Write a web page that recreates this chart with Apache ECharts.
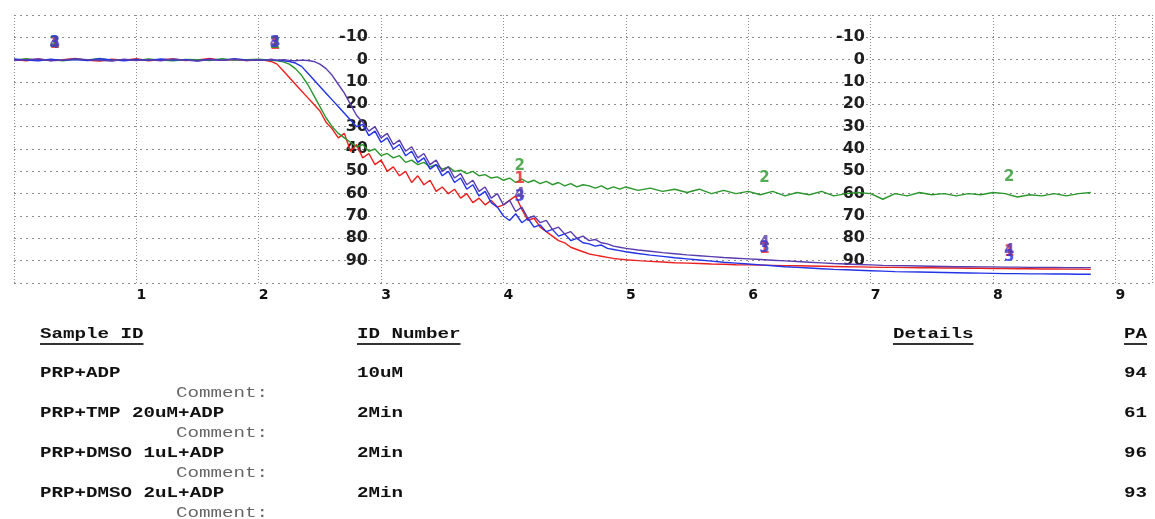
<!DOCTYPE html>
<html>
<head>
<meta charset="utf-8">
<title>Platelet aggregation</title>
<script src="https://cdn.jsdelivr.net/npm/echarts@6/dist/echarts.min.js"></script>
<style>
  html, body { margin: 0; padding: 0; background: #ffffff; }
  #chart { width: 1155px; height: 519px; }
</style>
</head>
<body>
<div id="chart"></div>
<script>
// Time axis (minutes)
const times = [
  0, 0.1, 0.2, 0.3, 0.4, 0.5, 0.6, 0.7, 0.8, 0.9, 1.0, 1.1, 1.2, 1.3, 1.4, 1.5, 1.6, 1.7, 1.8, 1.9, 2.0,
  2.05, 2.1, 2.15, 2.2, 2.25, 2.3, 2.35, 2.4, 2.45, 2.5, 2.55, 2.6, 2.65, 2.7, 2.75, 2.8, 2.85, 2.9, 2.95, 3.0,
  3.05, 3.1, 3.15, 3.2, 3.25, 3.3, 3.35, 3.4, 3.45, 3.5, 3.55, 3.6, 3.65, 3.7, 3.75, 3.8, 3.85, 3.9, 3.95, 4.0,
  4.05, 4.1, 4.15, 4.2, 4.25, 4.3, 4.35, 4.4, 4.45, 4.5, 4.55, 4.6, 4.65, 4.7, 4.75, 4.8, 4.85, 4.9, 4.95, 5.0,
  5.1, 5.2, 5.3, 5.4, 5.5, 5.6, 5.7, 5.8, 5.9, 6.0, 6.1, 6.2, 6.3, 6.4, 6.5, 6.6, 6.7, 6.8, 6.9, 7.0,
  7.1, 7.2, 7.3, 7.4, 7.5, 7.6, 7.7, 7.8, 7.9, 8.0, 8.1, 8.2, 8.3, 8.4, 8.5, 8.6, 8.7, 8.8
];

// Aggregation traces (% light transmission), one per channel
const trace1 = [ // PRP+ADP
  0, 0.5, -0.3, 0.4, 0, -0.5, 0.3, 0.6, -0.2, 0.2, -0.4, 0.5, 0, -0.3, 0.4, 0.1, -0.5, 0.3, 0, 0.4, 0.2,
  0.3, 0.8, 2, 5, 8, 11, 14, 17, 20, 23, 28, 31, 35, 33, 41, 38, 44, 42, 47, 45,
  50, 48, 52, 50, 55, 52, 56, 54, 59, 57, 60, 58, 62, 60, 64, 62, 65, 63, 66, 65,
  63, 61, 67, 72, 71, 75, 77, 79, 81, 82, 84, 85, 86, 87, 87.5, 88, 88.5, 89, 89.3, 89.6,
  90, 90.3, 90.6, 90.9, 91.1, 91.3, 91.5, 91.6, 91.8, 91.9, 92, 92.1, 92.2, 92.3, 92.4, 92.5, 92.6, 92.7, 92.8, 92.9,
  93, 93, 93.1, 93.2, 93.2, 93.3, 93.3, 93.4, 93.4, 93.5, 93.5, 93.6, 93.6, 93.7, 93.7, 93.8, 93.8, 93.9
];
const trace2 = [ // PRP+TMP 20uM+ADP
  0.2, -0.4, 0.3, 0, 0.5, -0.2, 0.1, -0.5, 0.4, 0, 0.3, -0.3, 0.2, 0.5, -0.1, 0, 0.4, -0.4, 0.2, 0, -0.2,
  0, 0.3, 0.5, 1, 2, 4, 7, 11, 16, 21, 26, 30, 33, 35, 37, 39, 38, 41, 40, 43,
  42, 44, 43, 46, 45, 47, 46, 48, 47, 49, 48, 50, 49.5, 51, 50, 52, 51.5, 53, 52.5, 54,
  53, 55, 53.5, 55, 54, 55.5, 54.5, 56, 55, 56.5, 55.5, 57, 56, 56.5, 57.5, 56.5, 58, 57, 58, 57,
  58.5, 57.5, 59, 58, 59.5, 58, 60, 58.5, 60, 59, 60.5, 59, 61, 59.5, 60.5, 59, 61, 60, 59.5, 60,
  62.5, 60, 61, 59.5, 60.5, 60, 61, 60, 60.5, 59.5, 60, 61.5, 60.5, 61, 60, 61, 60, 59.5
];
const trace3 = [ // PRP+DMSO 1uL+ADP
  -0.3, 0.2, 0.5, -0.2, 0.3, 0, 0.4, -0.4, 0.1, 0.5, -0.1, 0.3, -0.3, 0.2, 0, 0.5, -0.2, 0.3, -0.4, 0.1, 0.2,
  0.2, 0, 0.3, 0.5, 0.8, 1.5, 3, 6, 9, 12, 15, 18, 21, 24, 27, 30, 29, 34, 32, 37,
  35, 40, 38, 43, 41, 46, 44, 49, 47, 52, 50, 55, 53, 58, 56, 61, 59, 64, 66, 70,
  72, 69, 73, 71, 75, 74, 77, 76, 79, 78, 81, 80, 82, 82.5, 83.5, 83, 84.5, 85, 85.5, 86,
  86.8, 87.5, 88.1, 88.7, 89.2, 89.7, 90.2, 90.7, 91.1, 91.5, 91.9, 92.3, 92.7, 93, 93.3, 93.6, 93.9, 94.1, 94.3, 94.5,
  94.7, 94.9, 95, 95.1, 95.2, 95.3, 95.4, 95.5, 95.6, 95.7, 95.8, 95.8, 95.9, 95.9, 96, 96, 96.1, 96.1
];
const trace4 = [ // PRP+DMSO 2uL+ADP
  0.4, 0, -0.3, 0.5, 0.2, -0.4, 0, 0.3, 0.6, -0.2, 0.4, 0, 0.5, -0.3, 0.2, 0.6, 0, 0.3, -0.2, 0.4, 0,
  0.3, -0.2, 0.2, 0, 0.3, 0.5, 0.2, 0.4, 0.8, 2, 4, 7, 11, 15, 20, 25, 28, 32, 30, 35,
  33, 38, 36, 41, 39, 44, 42, 47, 45, 50, 48, 53, 51, 56, 54, 59, 57, 62, 60, 65,
  63, 68, 66, 71, 70, 73, 72, 76, 75, 78, 77, 80, 79, 81, 80.5, 82, 82.5, 83.5, 84, 84.5,
  85.2, 85.8, 86.4, 86.9, 87.4, 87.8, 88.2, 88.6, 88.9, 89.2, 89.5, 89.8, 90.1, 90.4, 90.7, 91, 91.3, 91.5, 91.7, 91.9,
  92.1, 92.2, 92.3, 92.4, 92.5, 92.6, 92.7, 92.7, 92.8, 92.8, 92.9, 92.9, 93, 93, 93, 93.1, 93.1, 93.1
];

// Times where the channel numbers are printed on the traces
const markerTimes = [0.3, 2.1, 4.1, 6.1, 8.1];

// Y tick labels printed inside the plot
const yTickLabels = [-10, 0, 10, 20, 30, 40, 50, 60, 70, 80, 90];

// Result table
const tableHeaders = ['Sample ID', 'ID Number', 'Details', 'PA'];
const sampleIds = ['PRP+ADP', 'PRP+TMP 20uM+ADP', 'PRP+DMSO 1uL+ADP', 'PRP+DMSO 2uL+ADP'];
const idNumbers = ['10uM', '2Min', '2Min', '2Min'];
const paValues = [94, 61, 96, 93];

const traces = [trace1, trace2, trace3, trace4];
const colors = ['#ec1f1f', '#2a962c', '#2233e8', '#5a3cae'];

const chart = echarts.init(document.getElementById('chart'), null, { renderer: 'canvas' });

const lineSeries = traces.map((tr, k) => ({
  name: sampleIds[k],
  type: 'line',
  data: times.map((t, i) => [t, tr[i]]),
  symbol: 'none',
  showSymbol: false,
  lineStyle: { color: colors[k], width: 1.4 },
  silent: true,
  z: 3 + k
}));

const markerSeries = traces.map((tr, k) => ({
  type: 'scatter',
  data: markerTimes.map(t => {
    const i = times.indexOf(t);
    return [t, tr[i]];
  }),
  symbol: 'circle',
  symbolSize: 2,
  itemStyle: { color: 'rgba(0,0,0,0)' },
  label: {
    show: true,
    position: 'top',
    distance: 8,
    offset: [4, 0],
    formatter: String(k + 1),
    color: colors[k],
    fontFamily: 'DejaVu Sans',
    fontWeight: 'bold',
    fontSize: 15
  },
  silent: true,
  z: 10 + k
}));

function innerYAxis(offset) {
  return {
    type: 'value',
    inverse: true,
    min: -20,
    max: 100,
    interval: 10,
    position: 'left',
    offset: offset,
    axisLine: { show: false },
    axisTick: { show: false },
    splitLine: { show: false },
    axisLabel: {
      margin: 8,
      color: '#1e1e1e',
      fontFamily: 'DejaVu Sans',
      fontWeight: 'bold',
      fontSize: 16,
      formatter: v => (yTickLabels.indexOf(v) >= 0 ? String(v) : '')
    }
  };
}

// Table drawn under the plot
const charW = 11.5;
const fontScale = 1.37;
const boldFont = 'bold 14px "Liberation Mono", "DejaVu Sans Mono", monospace';
const commentFont = '14px "Liberation Mono", "DejaVu Sans Mono", monospace';
const headerX = [40, 357, 893, 1147];
const headerY = 334;
const rowY0 = 373;
const rowStep = 40;

const graphics = [];
function textEl(str, x, y, font, fill, align) {
  graphics.push({
    type: 'text',
    x: x,
    y: y,
    scaleX: fontScale,
    silent: true,
    style: {
      text: str,
      x: 0,
      y: 0,
      font: font,
      fill: fill,
      textAlign: align || 'left',
      align: align || 'left',
      textVerticalAlign: 'middle',
      verticalAlign: 'middle'
    }
  });
}
tableHeaders.forEach((h, j) => {
  const right = j === 3;
  textEl(h, headerX[j], headerY, boldFont, '#111', right ? 'right' : 'left');
  const w = h.length * charW;
  const x1 = right ? headerX[j] - w : headerX[j];
  graphics.push({
    type: 'line',
    silent: true,
    shape: { x1: x1, y1: headerY + 10, x2: x1 + w, y2: headerY + 10 },
    style: { stroke: '#333', lineWidth: 2 }
  });
});
sampleIds.forEach((s, r) => {
  const y = rowY0 + r * rowStep;
  textEl(s, headerX[0], y, boldFont, '#111');
  textEl(idNumbers[r], headerX[1], y, boldFont, '#111');
  textEl(String(paValues[r]), headerX[3], y, boldFont, '#111', 'right');
  textEl('Comment:', 176, y + 20, commentFont, '#666');
});

const option = {
  animation: false,
  backgroundColor: '#ffffff',
  grid: { left: 14, top: 15, right: 0, bottom: 236 },
  xAxis: {
    type: 'value',
    min: 0,
    max: 9.3,
    interval: 1,
    axisLine: { show: false },
    axisTick: { show: false },
    axisLabel: {
      margin: 5,
      padding: [0, 0, 0, 10],
      color: '#111',
      fontFamily: 'DejaVu Sans',
      fontWeight: 'bold',
      fontSize: 14,
      formatter: v => (Number.isInteger(v) && v > 0 ? String(v) : '')
    },
    splitLine: { show: true, lineStyle: { color: '#8c8c8c', type: [1, 2], width: 1 } }
  },
  yAxis: [
    {
      type: 'value',
      inverse: true,
      min: -20,
      max: 100,
      interval: 10,
      axisLine: { show: false },
      axisTick: { show: false },
      axisLabel: { show: false },
      splitLine: { show: true, lineStyle: { color: '#8c8c8c', type: [2, 4], width: 1 } }
    },
    innerYAxis(-362),
    innerYAxis(-859)
  ],
  series: lineSeries.concat(markerSeries),
  graphic: graphics
};

chart.setOption(option);
</script>
</body>
</html>
